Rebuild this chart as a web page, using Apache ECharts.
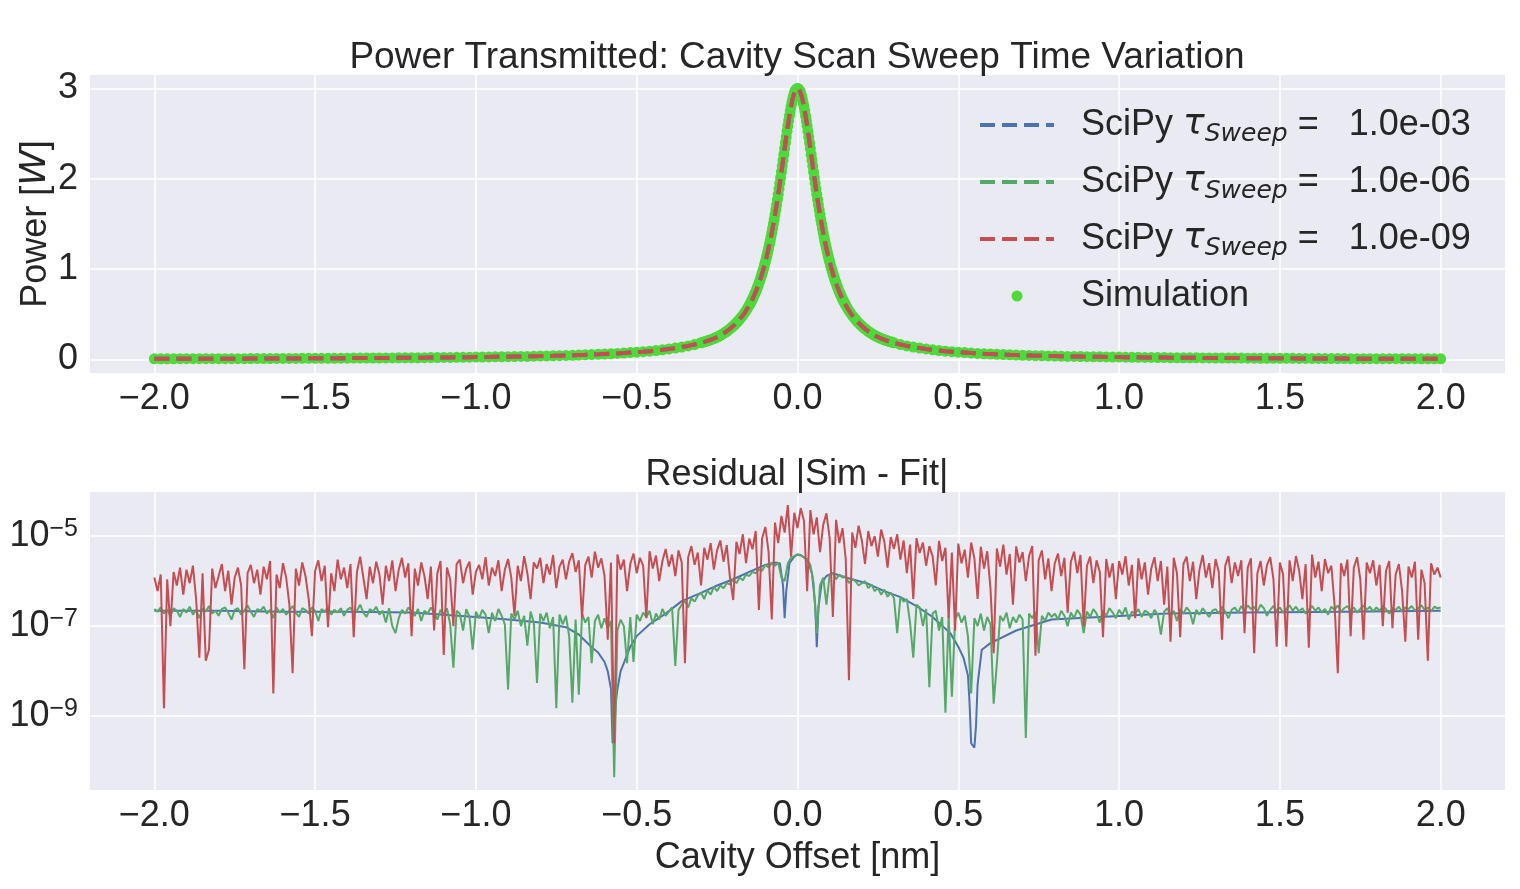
<!DOCTYPE html>
<html><head><meta charset="utf-8">
<script src="https://cdn.jsdelivr.net/npm/echarts@6/dist/echarts.min.js"></script>
<style>html,body{margin:0;padding:0;background:#fff}#c{width:1520px;height:889px}</style>
</head><body><div id="c"></div>
<script>
// ---------- top panel: transmitted power ----------
const simOffset = [
-2,-1.98,-1.96,-1.94,-1.92,-1.9,-1.88,-1.86,-1.84,-1.82,-1.8,-1.78,-1.76,-1.74,-1.72,-1.7,-1.68,-1.66,-1.64,-1.62,
-1.6,-1.58,-1.56,-1.54,-1.52,-1.5,-1.48,-1.46,-1.44,-1.42,-1.4,-1.38,-1.36,-1.34,-1.32,-1.3,-1.28,-1.26,-1.24,-1.22,
-1.2,-1.18,-1.16,-1.14,-1.12,-1.1,-1.08,-1.06,-1.04,-1.02,
-1,-0.98,-0.96,-0.94,-0.92,-0.9,-0.88,-0.86,-0.84,-0.82,-0.8,-0.78,-0.76,-0.74,-0.72,-0.7,-0.68,-0.66,-0.64,-0.62,
-0.6,-0.58,-0.56,-0.54,-0.52,-0.5,-0.48,-0.46,-0.44,-0.42,-0.4,-0.38,-0.36,-0.34,-0.32,
-0.3,-0.295,-0.29,-0.285,-0.28,-0.275,-0.27,-0.265,-0.26,-0.255,-0.25,-0.245,-0.24,-0.235,-0.23,-0.225,-0.22,-0.215,-0.21,-0.205,
-0.2,-0.195,-0.19,-0.185,-0.18,-0.175,-0.17,-0.165,-0.16,-0.155,
-0.15,-0.1475,-0.145,-0.1425,-0.14,-0.1375,-0.135,-0.1325,-0.13,-0.1275,-0.125,-0.1225,-0.12,-0.1175,-0.115,-0.1125,-0.11,-0.1075,-0.105,-0.1025,
-0.1,-0.0975,-0.095,-0.0925,-0.09,-0.0875,-0.085,-0.0825,-0.08,-0.0775,-0.075,-0.0725,-0.07,-0.0675,-0.065,-0.0625,-0.06,-0.0575,-0.055,-0.0525,
-0.05,-0.0475,-0.045,-0.0425,-0.04,-0.0375,-0.035,-0.0325,-0.03,-0.0275,-0.025,-0.0225,-0.02,-0.0175,-0.015,-0.0125,-0.01,-0.0075,-0.005,-0.0025,
0,
0.0025,0.005,0.0075,0.01,0.0125,0.015,0.0175,0.02,0.0225,0.025,0.0275,0.03,0.0325,0.035,0.0375,0.04,0.0425,0.045,0.0475,0.05,
0.0525,0.055,0.0575,0.06,0.0625,0.065,0.0675,0.07,0.0725,0.075,0.0775,0.08,0.0825,0.085,0.0875,0.09,0.0925,0.095,0.0975,0.1,
0.1025,0.105,0.1075,0.11,0.1125,0.115,0.1175,0.12,0.1225,0.125,0.1275,0.13,0.1325,0.135,0.1375,0.14,0.1425,0.145,0.1475,0.15,
0.155,0.16,0.165,0.17,0.175,0.18,0.185,0.19,0.195,0.2,
0.205,0.21,0.215,0.22,0.225,0.23,0.235,0.24,0.245,0.25,0.255,0.26,0.265,0.27,0.275,0.28,0.285,0.29,0.295,0.3,
0.32,0.34,0.36,0.38,0.4,0.42,0.44,0.46,0.48,0.5,0.52,0.54,0.56,0.58,0.6,0.62,0.64,0.66,0.68,0.7,
0.72,0.74,0.76,0.78,0.8,0.82,0.84,0.86,0.88,0.9,0.92,0.94,0.96,0.98,1,
1.02,1.04,1.06,1.08,1.1,1.12,1.14,1.16,1.18,1.2,1.22,1.24,1.26,1.28,1.3,1.32,1.34,1.36,1.38,1.4,
1.42,1.44,1.46,1.48,1.5,1.52,1.54,1.56,1.58,1.6,1.62,1.64,1.66,1.68,1.7,1.72,1.74,1.76,1.78,1.8,
1.82,1.84,1.86,1.88,1.9,1.92,1.94,1.96,1.98,2
];
const simPower = [
0.007,0.007,0.007,0.007,0.008,0.008,0.008,0.008,0.008,0.008,0.009,0.009,0.009,0.009,0.009,0.010,0.010,0.010,0.010,0.011,
0.011,0.011,0.011,0.012,0.012,0.012,0.013,0.013,0.013,0.014,0.014,0.015,0.015,0.015,0.016,0.016,0.017,0.017,0.018,0.018,
0.019,0.019,0.020,0.021,0.021,0.022,0.023,0.024,0.024,0.025,
0.026,0.027,0.028,0.029,0.030,0.031,0.032,0.033,0.034,0.036,0.037,0.039,0.040,0.042,0.044,0.046,0.049,0.051,0.054,0.057,
0.060,0.063,0.067,0.071,0.076,0.081,0.086,0.092,0.099,0.107,0.116,0.126,0.137,0.150,0.165,
0.185,0.190,0.195,0.200,0.206,0.212,0.218,0.225,0.232,0.240,0.248,0.257,0.267,0.277,0.288,0.300,0.312,0.325,0.339,0.354,
0.370,0.387,0.404,0.423,0.444,0.466,0.489,0.514,0.540,0.569,
0.600,0.616,0.633,0.651,0.669,0.688,0.708,0.728,0.749,0.771,0.794,0.818,0.843,0.868,0.895,0.923,0.952,0.982,1.014,1.046,
1.080,1.115,1.152,1.190,1.230,1.271,1.313,1.357,1.403,1.451,1.500,1.551,1.603,1.657,1.713,1.770,1.829,1.889,1.951,2.013,
2.077,2.141,2.206,2.271,2.336,2.400,2.464,2.526,2.586,2.644,2.700,2.752,2.801,2.845,2.885,2.919,2.948,2.970,2.987,2.997,
3.000,
2.997,2.987,2.970,2.948,2.919,2.885,2.845,2.801,2.752,2.700,2.644,2.586,2.526,2.464,2.400,2.336,2.271,2.206,2.141,2.077,
2.013,1.951,1.889,1.829,1.770,1.713,1.657,1.603,1.551,1.500,1.451,1.403,1.357,1.313,1.271,1.230,1.190,1.152,1.115,1.080,
1.046,1.014,0.982,0.952,0.923,0.895,0.868,0.843,0.818,0.794,0.771,0.749,0.728,0.708,0.688,0.669,0.651,0.633,0.616,0.600,
0.569,0.540,0.514,0.489,0.466,0.444,0.423,0.404,0.387,0.370,
0.354,0.339,0.325,0.312,0.300,0.288,0.277,0.267,0.257,0.248,0.240,0.232,0.225,0.218,0.212,0.206,0.200,0.195,0.190,0.185,
0.165,0.150,0.137,0.126,0.116,0.107,0.099,0.092,0.086,0.081,0.076,0.071,0.067,0.063,0.060,0.057,0.054,0.051,0.049,0.046,
0.044,0.042,0.040,0.039,0.037,0.036,0.034,0.033,0.032,0.031,0.030,0.029,0.028,0.027,0.026,
0.025,0.024,0.024,0.023,0.022,0.021,0.021,0.020,0.019,0.019,0.018,0.018,0.017,0.017,0.016,0.016,0.015,0.015,0.015,0.014,
0.014,0.013,0.013,0.013,0.012,0.012,0.012,0.011,0.011,0.011,0.011,0.010,0.010,0.010,0.010,0.009,0.009,0.009,0.009,0.009,
0.008,0.008,0.008,0.008,0.008,0.008,0.007,0.007,0.007,0.007
];
// the three SciPy fits coincide with the simulation at this scale
const fitPower = simPower;

// ---------- bottom panel: residuals ----------
const residOffset = [
-2,-1.99,-1.98,-1.97,-1.96,-1.95,-1.94,-1.93,-1.92,-1.91,
-1.9,-1.89,-1.88,-1.87,-1.86,-1.85,-1.84,-1.83,-1.82,-1.81,
-1.8,-1.79,-1.78,-1.77,-1.76,-1.75,-1.74,-1.73,-1.72,-1.71,
-1.7,-1.69,-1.68,-1.67,-1.66,-1.65,-1.64,-1.63,-1.62,-1.61,
-1.6,-1.59,-1.58,-1.57,-1.56,-1.55,-1.54,-1.53,-1.52,-1.51,
-1.5,-1.49,-1.48,-1.47,-1.46,-1.45,-1.44,-1.43,-1.42,-1.41,
-1.4,-1.39,-1.38,-1.37,-1.36,-1.35,-1.34,-1.33,-1.32,-1.31,
-1.3,-1.29,-1.28,-1.27,-1.26,-1.25,-1.24,-1.23,-1.22,-1.21,
-1.2,-1.19,-1.18,-1.17,-1.16,-1.15,-1.14,-1.13,-1.12,-1.11,
-1.1,-1.09,-1.08,-1.07,-1.06,-1.05,-1.04,-1.03,-1.02,-1.01,
-1,-0.99,-0.98,-0.97,-0.96,-0.95,-0.94,-0.93,-0.92,-0.91,
-0.9,-0.89,-0.88,-0.87,-0.86,-0.85,-0.84,-0.83,-0.82,-0.81,
-0.8,-0.79,-0.78,-0.77,-0.76,-0.75,-0.74,-0.73,-0.72,-0.71,
-0.7,-0.69,-0.68,-0.67,-0.66,-0.65,-0.64,-0.63,-0.62,-0.61,
-0.6,-0.59,-0.58,-0.57,-0.56,-0.55,-0.54,-0.53,-0.52,-0.51,
-0.5,-0.49,-0.48,-0.47,-0.46,-0.45,-0.44,-0.43,-0.42,-0.41,
-0.4,-0.39,-0.38,-0.37,-0.36,-0.35,-0.34,-0.33,-0.32,-0.31,
-0.3,-0.29,-0.28,-0.27,-0.26,-0.25,-0.24,-0.23,-0.22,-0.21,
-0.2,-0.19,-0.18,-0.17,-0.16,-0.15,-0.14,-0.13,-0.12,-0.11,
-0.1,-0.09,-0.08,-0.07,-0.06,-0.05,-0.04,-0.03,-0.02,-0.01,
0,0.01,0.02,0.03,0.04,0.05,0.06,0.07,0.08,0.09,
0.1,0.11,0.12,0.13,0.14,0.15,0.16,0.17,0.18,0.19,
0.2,0.21,0.22,0.23,0.24,0.25,0.26,0.27,0.28,0.29,
0.3,0.31,0.32,0.33,0.34,0.35,0.36,0.37,0.38,0.39,
0.4,0.41,0.42,0.43,0.44,0.45,0.46,0.47,0.48,0.49,
0.5,0.51,0.52,0.53,0.54,0.55,0.56,0.57,0.58,0.59,
0.6,0.61,0.62,0.63,0.64,0.65,0.66,0.67,0.68,0.69,
0.7,0.71,0.72,0.73,0.74,0.75,0.76,0.77,0.78,0.79,
0.8,0.81,0.82,0.83,0.84,0.85,0.86,0.87,0.88,0.89,
0.9,0.91,0.92,0.93,0.94,0.95,0.96,0.97,0.98,0.99,
1,1.01,1.02,1.03,1.04,1.05,1.06,1.07,1.08,1.09,
1.1,1.11,1.12,1.13,1.14,1.15,1.16,1.17,1.18,1.19,
1.2,1.21,1.22,1.23,1.24,1.25,1.26,1.27,1.28,1.29,
1.3,1.31,1.32,1.33,1.34,1.35,1.36,1.37,1.38,1.39,
1.4,1.41,1.42,1.43,1.44,1.45,1.46,1.47,1.48,1.49,
1.5,1.51,1.52,1.53,1.54,1.55,1.56,1.57,1.58,1.59,
1.6,1.61,1.62,1.63,1.64,1.65,1.66,1.67,1.68,1.69,
1.7,1.71,1.72,1.73,1.74,1.75,1.76,1.77,1.78,1.79,
1.8,1.81,1.82,1.83,1.84,1.85,1.86,1.87,1.88,1.89,
1.9,1.91,1.92,1.93,1.94,1.95,1.96,1.97,1.98,1.99,
2
];
const residRed = [
1.2e-6,6e-7,1.4e-6,1.5e-9,1.1e-6,1e-7,1.6e-6,8e-7,2e-6,5e-7,
1.8e-6,9e-7,2.2e-6,4e-7,2e-8,1.5e-6,1.7e-8,3e-8,1.9e-6,7e-7,
1.3e-6,2.4e-6,6e-7,1.7e-6,3e-7,1.2e-6,2e-6,8e-7,1.1e-8,1.5e-6,
2.3e-6,9e-7,1.8e-6,5e-7,2.1e-6,1.1e-6,2.8e-6,3.2e-9,1.4e-6,7e-7,
2.5e-6,1.2e-6,3e-7,9e-9,1.9e-6,8e-7,2.6e-6,1.3e-6,4e-7,6e-8,
1.7e-6,2.9e-6,1e-6,2.2e-6,9.5e-8,1.5e-6,6e-7,3e-6,1.1e-6,2e-6,
7e-7,2.4e-6,5.7e-8,1.6e-6,3.5e-6,1.2e-6,4e-7,2.1e-6,9e-7,2.7e-6,
1.4e-6,3e-7,2.2e-6,1e-6,2.9e-6,6e-7,1.8e-6,3.3e-6,1.2e-6,2.5e-6,
6e-8,1.9e-6,8e-7,2.6e-6,1.3e-6,4e-7,2.1e-6,8e-8,1.5e-6,2.8e-6,
2.3e-8,2e-6,1.1e-6,1e-7,2.4e-6,3e-6,9e-7,1.9e-6,2.7e-6,5e-7,
1.6e-6,2.3e-6,1.1e-6,3.4e-6,8e-7,2e-6,1.3e-6,2.9e-6,6e-7,1.8e-6,
3.1e-6,1.2e-6,1.7e-7,2.2e-6,1e-6,3.6e-6,1.5e-6,4e-7,2.6e-6,1.9e-6,
3.3e-6,9e-7,2.4e-6,1.4e-6,3.8e-6,7e-7,2.1e-6,3e-6,1.1e-6,2.7e-6,
4.2e-6,1.6e-6,2.9e-6,1.5e-7,2.3e-6,3.5e-6,1.2e-6,4.5e-6,2e-6,3.2e-6,
1.3e-6,5e-8,2.6e-6,2.5e-10,3.9e-6,1.8e-6,3e-6,6e-7,2.4e-6,4.1e-6,
1.5e-6,3.3e-6,2.2e-6,1.5e-7,4.6e-6,1.9e-6,3.7e-6,1e-6,2.8e-6,5.2e-6,
2.1e-6,3.9e-6,1.3e-6,4.8e-6,2.6e-6,1.5e-8,3.4e-6,6e-6,2.3e-6,4.3e-6,
8e-7,5.5e-6,3e-6,7e-6,1.8e-6,4.9e-6,8e-6,2.7e-6,6.3e-6,1.2e-6,
3.8e-7,7.5e-6,4e-6,1.1e-5,2.5e-6,8.8e-6,5.1e-6,1.3e-5,2.3e-7,9e-6,
1.6e-5,4.5e-6,1.4e-7,2e-5,7e-6,2.8e-5,1.2e-5,4.9e-5,3.5e-6,3.3e-5,
1.5e-5,4.2e-5,2.2e-5,6e-7,3.8e-5,1.1e-5,2.6e-5,4.4e-6,1.8e-5,3.2e-5,
9e-6,1.6e-7,2.3e-5,7e-6,1.5e-5,3.1e-6,6.3e-9,1.2e-5,5.5e-6,1.7e-5,
8e-6,2.4e-6,1.3e-5,6e-6,1e-5,3.5e-6,1.4e-5,7.5e-6,2e-6,9.5e-6,
5.2e-6,1.1e-5,3e-6,8e-6,1.5e-6,6.5e-6,4e-7,9e-6,4.2e-6,7.2e-6,
2.2e-6,6e-6,3.6e-6,8e-7,7.8e-6,2.8e-6,5.5e-6,1.5e-7,4.3e-6,8e-8,
6.8e-6,2.5e-6,5e-6,1.2e-6,7.2e-6,3.2e-6,4e-7,5.8e-6,1.9e-6,4.6e-6,
7e-7,2.5e-8,5.3e-6,2.1e-6,6.5e-6,1.4e-6,4e-6,3e-7,5.9e-6,2.6e-6,
4.4e-6,1e-6,3.6e-6,6e-6,2.2e-8,2.9e-6,4.8e-6,1.1e-6,3.2e-6,6e-7,
2.5e-6,4.1e-6,1.3e-6,3.3e-6,2e-7,2.7e-6,4.5e-6,1.5e-6,3.8e-6,1e-7,
2.2e-6,3.5e-6,9e-7,2.9e-6,1.6e-6,5.7e-8,3.1e-6,1.2e-6,2.5e-6,4e-7,
2.8e-6,1.4e-6,3.6e-6,8e-7,2.3e-6,1.5e-7,3.2e-6,1.1e-6,2.6e-6,5e-7,
1.9e-6,3.4e-6,1e-6,2.8e-6,3e-7,2.1e-6,4.5e-8,3.3e-6,1.5e-6,5.7e-8,
2.4e-6,3.5e-6,1e-6,2.7e-6,4e-7,1.8e-6,3.8e-6,1.2e-6,2.5e-6,7e-7,
3.1e-6,1.6e-6,5e-8,2.2e-6,3.6e-6,9e-7,2.6e-6,1.3e-6,2.9e-6,7e-8,
2e-6,3.2e-6,2.5e-8,1.5e-6,2.8e-6,8e-7,2.3e-6,3.4e-6,1.1e-6,3.5e-8,
2.6e-6,1.4e-6,3.5e-8,2.9e-6,1e-6,3.6e-6,1.7e-6,4e-7,2.4e-6,3.3e-8,
3.9e-6,1.2e-6,2.7e-6,6e-7,3.1e-6,1.5e-6,2.2e-6,3e-7,9e-9,2.5e-6,
1.3e-6,3e-6,6e-8,2e-6,3.4e-6,1.1e-6,5e-8,2.6e-6,1.5e-6,2.9e-6,
8e-7,2.3e-6,1e-7,1.7e-6,2.8e-6,9e-8,1.4e-6,2.4e-6,6e-7,4.5e-8,
2.1e-6,1.2e-6,2.7e-6,5e-8,1.8e-6,9e-7,1.7e-8,2.5e-6,1.4e-6,2e-6,
1.2e-6
];
const residGreen = [
2.4e-7,2.1e-7,2.6e-7,1.9e-7,2.3e-7,1.7e-7,2.5e-7,2.2e-7,1.6e-7,2.4e-7,
2e-7,2.7e-7,1.8e-7,2.3e-7,1.5e-7,2.5e-7,2.1e-7,2.8e-7,1.9e-7,2.2e-7,
1.7e-7,2.4e-7,2.6e-7,2e-7,1.4e-7,2.3e-7,2.5e-7,1.8e-7,2.2e-7,2.9e-7,
2.1e-7,1.6e-7,2.4e-7,2.2e-7,2.7e-7,1.9e-7,2.3e-7,1.5e-7,2.6e-7,2e-7,
2.4e-7,1.8e-7,2.2e-7,2.8e-7,2e-7,1.6e-7,2.5e-7,2.3e-7,1.9e-7,2.6e-7,
2.2e-7,1.3e-7,2.4e-7,2.1e-7,2.7e-7,1.8e-7,2.3e-7,2e-7,2.5e-7,1.7e-7,
2.3e-7,2.6e-7,1.9e-7,2.2e-7,3e-7,2e-7,1.6e-7,2.4e-7,2.1e-7,2.7e-7,
1.8e-7,2.2e-7,1.2e-7,2.5e-7,1e-7,7e-8,1.5e-7,2.3e-7,1.9e-7,2.6e-7,
2.1e-7,1.7e-7,2.4e-7,1.3e-7,2.2e-7,1.9e-7,2.6e-7,2e-7,1.4e-7,2.3e-7,
1.8e-7,2.5e-7,1.1e-7,1.2e-8,2.2e-7,1.9e-7,8e-8,2.4e-7,1.6e-7,3e-8,
2.1e-7,1.5e-7,2.3e-7,1.8e-7,7e-8,2e-7,1.3e-7,2.4e-7,1.7e-7,1.1e-7,
3.9e-9,1.9e-7,1.4e-7,2.2e-7,1e-7,1.7e-7,3.7e-8,2.1e-7,1.2e-7,5.5e-9,
1.9e-7,1.3e-7,2e-7,9e-8,1.6e-7,1.5e-9,1.8e-7,1.1e-7,1.7e-7,6e-8,
2e-9,1.4e-7,3e-9,1.9e-7,1.2e-7,1.6e-7,1.5e-8,1.3e-7,1.8e-7,9e-8,
1.5e-7,9e-8,1.3e-7,4.4e-11,8e-8,1.4e-7,1e-7,1.5e-8,1.6e-7,1.6e-8,
1.8e-7,1.3e-7,2e-7,1.6e-7,2.2e-7,1.1e-7,1.9e-7,1.4e-7,2.4e-7,1.7e-7,
2.1e-7,2.6e-7,1.3e-8,2.3e-7,3e-7,3.6e-7,2.6e-7,4.2e-7,3.5e-7,4.8e-7,
5.5e-7,4e-7,6.2e-7,5e-7,7.5e-7,6e-7,8e-7,7e-7,9e-7,8.5e-7,
1.1e-6,9e-7,1.2e-6,1.05e-6,1.4e-6,1.3e-6,1.6e-6,1.5e-6,1.8e-6,1.7e-6,
2.3e-6,2e-6,2.5e-6,2.2e-6,2.6e-6,1.2e-6,1e-6,2.5e-6,3.3e-6,3.6e-6,
3.9e-6,3.7e-6,3.4e-6,3e-6,2.3e-6,9e-7,7e-8,8e-7,1.2e-6,3e-7,
1.4e-6,1.5e-6,1.1e-6,1.4e-6,1.2e-6,1.3e-6,9e-7,1.1e-6,1e-6,8e-7,
9e-7,1e-6,7e-7,8.5e-7,6e-7,7e-7,5e-7,6.5e-7,4.5e-7,5.5e-7,
4.2e-7,7e-8,4.5e-7,3.5e-7,4e-7,1.2e-7,2e-8,3e-7,2.6e-7,1e-7,
2.4e-7,4.4e-9,1.9e-7,2.2e-7,8e-8,1.6e-7,1.2e-9,1.8e-7,2.7e-9,1.4e-7,
2e-7,1.2e-7,1.7e-7,6e-8,3.2e-9,1.5e-7,1e-7,1.9e-7,8e-8,1.6e-7,
1.1e-7,1.9e-9,1.5e-8,1.7e-7,1.3e-7,2e-7,9e-8,1.6e-7,1.2e-7,1.8e-7,
1.4e-7,3.3e-10,1.9e-7,1.5e-7,2.1e-7,2.5e-8,1.7e-7,1.3e-7,2e-7,1.6e-7,
1.9e-7,1.4e-7,2.2e-7,1.7e-7,1e-7,2e-7,1.5e-7,2.3e-7,1.8e-7,7e-8,
2.1e-7,1.6e-7,2.4e-7,1.9e-7,1.2e-7,2.2e-7,1.7e-7,2.5e-7,2e-7,1.5e-7,
2.3e-7,1.8e-7,2.6e-7,1.4e-7,2.1e-7,1.9e-7,2.4e-7,1.6e-7,2.2e-7,2e-7,
1.5e-7,2.3e-7,1.8e-7,6.5e-8,2.1e-7,2.5e-7,1.7e-7,2.2e-7,1.3e-7,2.4e-7,
1.9e-7,2.6e-7,2.1e-7,1.1e-7,2.3e-7,1.8e-7,2.5e-7,2e-7,1.6e-7,2.2e-7,
2.4e-7,1.9e-7,2.7e-7,2.1e-7,1.5e-7,2.3e-7,2.6e-7,2e-7,2.8e-7,2.2e-7,
2.9e-7,2.4e-7,2.7e-7,2.1e-7,3e-7,2.5e-7,1.7e-7,2.3e-7,2.8e-7,2.2e-7,
2.6e-7,2e-7,2.4e-7,2.9e-7,2.2e-7,2.7e-7,2.1e-7,2.5e-7,1.9e-7,2.3e-7,
2.8e-7,2.2e-7,2.6e-7,2e-7,2.4e-7,1.8e-7,2.7e-7,2.3e-7,2.9e-7,2.1e-7,
2.5e-7,2.8e-7,2.2e-7,2.6e-7,2e-7,2.4e-7,2.9e-7,2.3e-7,2.7e-7,2.1e-7,
2.6e-7,2.2e-7,2.8e-7,2.4e-7,1.9e-7,2.5e-7,2.3e-7,2.7e-7,2.1e-7,2.6e-7,
2.4e-7,2.8e-7,2.2e-7,2.5e-7,2.9e-7,2.3e-7,2.6e-7,2.1e-7,2.7e-7,2.5e-7,
2.6e-7
];
const blueOffset = [-2,-1.8,-1.6,-1.4,-1.2,-1.1,-1,-0.9,-0.8,-0.72,-0.68,-0.64,-0.62,-0.6,-0.59,-0.58,-0.575,-0.57,-0.565,-0.56,
-0.55,-0.54,-0.52,-0.5,-0.46,-0.41,-0.36,-0.3,-0.25,-0.2,-0.15,-0.1,-0.07,-0.055,-0.045,-0.04,-0.035,-0.025,-0.01,0,
0.01,0.03,0.045,0.055,0.06,0.065,0.075,0.09,0.11,0.15,0.215,0.27,0.32,0.37,0.42,0.475,0.5,0.516,0.53,0.535,
0.54,0.55,0.555,0.56,0.573,0.6,0.68,0.79,0.94,1.15,1.4,1.7,2];
const residBlue = [2.2e-7,2.2e-7,2.1e-7,2.1e-7,2e-7,1.8e-7,1.6e-7,1.4e-7,1.2e-7,9.5e-8,6.5e-8,3.4e-8,2.6e-8,1.6e-8,1e-8,4e-9,2.5e-10,4e-10,2e-9,4e-9,
1e-8,1.5e-8,3.5e-8,6e-8,1.1e-7,1.9e-7,3.6e-7,5.5e-7,8e-7,1.1e-6,1.6e-6,2.3e-6,2.6e-6,2.5e-6,8e-7,1.5e-7,6e-7,2.5e-6,3.5e-6,3.9e-6,
3.8e-6,3e-6,1.5e-6,3e-7,3.4e-8,2.5e-7,9e-7,1.3e-6,1.5e-6,1.2e-6,9e-7,6e-7,4.4e-7,2.8e-7,1.6e-7,7e-8,3.5e-8,2e-8,8e-9,2e-9,
2.5e-10,2e-10,6e-10,5e-9,3e-8,4.2e-8,8e-8,1.4e-7,1.6e-7,1.9e-7,2e-7,2.1e-7,2.2e-7];

// ---------- ticks ----------
const offsetTicks = [-2,-1.5,-1,-0.5,0,0.5,1,1.5,2];
const powerTicks = [0,1,2,3];
const residTickExp = [-9,-7,-5];

// ---------- styling ----------
const FONT = 'Liberation Sans';
const TXT = '#262626';
const BLUE = '#4C72B0', GREEN = '#55A868', RED = '#C44E52', SIM = '#4fd93a';
const pairs = (xs, ys) => xs.map((x, i) => [x, ys[i]]);
const logPairs = (xs, ys) => xs.map((x, i) => [x, Math.log10(ys[i])]);
const fmtX = v => (v < 0 ? '\u2212' : '') + Math.abs(v).toFixed(1);
const labelStyle = {fontSize: 36, fontFamily: FONT, color: TXT};

function xAxisCfg(gridIndex, name) {
  return {
    type: 'value', gridIndex, min: -2.2, max: 2.2,
    axisLine: {show: false},
    axisTick: {show: false, customValues: offsetTicks},
    axisLabel: Object.assign({customValues: offsetTicks, formatter: fmtX, margin: 8}, labelStyle),
    splitLine: {show: true, lineStyle: {color: '#ffffff', width: 1.5}},
    name: name || '', nameLocation: 'middle', nameGap: 50,
    nameTextStyle: labelStyle
  };
}

const legendNames = {
  fit3: '{sp| }{a|SciPy }{t|\u03c4}{sub|Sweep}{a| =   1.0e-03}',
  fit6: '{sp| }{a|SciPy }{t|\u03c4}{sub|Sweep}{a| =   1.0e-06}',
  fit9: '{sp| }{a|SciPy }{t|\u03c4}{sub|Sweep}{a| =   1.0e-09}',
  sim: '{sp| }{a|Simulation}'
};

const chart = echarts.init(document.getElementById('c'), null, {renderer: 'canvas'});
chart.setOption({
  animation: false,
  backgroundColor: '#ffffff',
  title: [
    {text: 'Power Transmitted: Cavity Scan Sweep Time Variation', left: 797, top: 39, textAlign: 'center', padding: 0,
     textStyle: {fontSize: 37, fontWeight: 'normal', fontFamily: FONT, color: TXT}},
    {text: 'Residual |Sim - Fit|', left: 797, top: 457, textAlign: 'center', padding: 0,
     textStyle: {fontSize: 36, fontWeight: 'normal', fontFamily: FONT, color: TXT}}
  ],
  grid: [
    {left: 90, right: 15, top: 75, height: 298, show: true, backgroundColor: '#EAEAF2', borderWidth: 0, containLabel: false, outerBoundsMode: 'none'},
    {left: 90, right: 15, top: 492, height: 298, show: true, backgroundColor: '#EAEAF2', borderWidth: 0, containLabel: false, outerBoundsMode: 'none'}
  ],
  xAxis: [xAxisCfg(0), xAxisCfg(1, 'Cavity Offset [nm]')],
  yAxis: [
    {type: 'value', gridIndex: 0, min: -0.15, max: 3.15,
     axisLine: {show: false},
     axisTick: {show: false, customValues: powerTicks},
     axisLabel: Object.assign({customValues: powerTicks, margin: 12}, labelStyle),
     splitLine: {show: true, lineStyle: {color: '#ffffff', width: 1.5}},
     name: '{a|Power [}{i|W}{a|]}', nameLocation: 'middle', nameGap: 36, nameRotate: 90, nameMoveOverlap: false,
     nameTextStyle: {rich: {a: labelStyle, i: {fontSize: 36, fontFamily: 'DejaVu Sans', fontStyle: 'italic', color: TXT}}}},
    {type: 'value', gridIndex: 1, min: -10.64, max: -4.02,
     axisLine: {show: false},
     axisTick: {show: false, customValues: residTickExp},
     axisLabel: {customValues: residTickExp, margin: 12,
       formatter: v => '{b|10}{s|\u2212' + Math.round(Math.abs(v)) + '}',
       rich: {b: {fontSize: 36, fontFamily: FONT, color: TXT, lineHeight: 40},
              s: {fontSize: 25, fontFamily: FONT, color: TXT, verticalAlign: 'top', lineHeight: 25}}},
     splitLine: {show: true, lineStyle: {color: '#ffffff', width: 1.5}}}
  ],
  legend: {
    orient: 'vertical', left: 978, top: 107, padding: 0,
    itemWidth: 74, itemHeight: 11, itemGap: 17,
    data: [
      {name: 'fit3', itemStyle: {opacity: 0}},
      {name: 'fit6', itemStyle: {opacity: 0}},
      {name: 'fit9', itemStyle: {opacity: 0}},
      {name: 'sim'}
    ],
    formatter: n => legendNames[n],
    lineStyle: {width: 'inherit'},
    textStyle: {color: TXT, fontSize: 36, fontFamily: FONT,
      rich: {
        sp: {width: 22, fontSize: 36, lineHeight: 44},
        a: {fontSize: 36, fontFamily: FONT, color: TXT, lineHeight: 44},
        t: {fontSize: 36, fontFamily: 'DejaVu Sans', fontStyle: 'italic', color: TXT, lineHeight: 44},
        sub: {fontSize: 25, fontFamily: 'DejaVu Sans', fontStyle: 'italic', color: TXT, lineHeight: 27, verticalAlign: 'bottom'}
      }}
  },
  series: [
    {type: 'scatter', name: 'sim', xAxisIndex: 0, yAxisIndex: 0, data: pairs(simOffset, simPower),
     symbolSize: 11, itemStyle: {color: SIM, opacity: 1}},
    {type: 'line', name: 'fit3', xAxisIndex: 0, yAxisIndex: 0, data: pairs(simOffset, fitPower), symbol: 'none',
     itemStyle: {color: BLUE}, lineStyle: {color: BLUE, width: 4, type: [15, 7]}},
    {type: 'line', name: 'fit6', xAxisIndex: 0, yAxisIndex: 0, data: pairs(simOffset, fitPower), symbol: 'none',
     itemStyle: {color: GREEN}, lineStyle: {color: GREEN, width: 4, type: [15, 7]}},
    {type: 'line', name: 'fit9', xAxisIndex: 0, yAxisIndex: 0, data: pairs(simOffset, fitPower), symbol: 'none',
     itemStyle: {color: RED}, lineStyle: {color: RED, width: 4, type: [15, 7]}},
    {type: 'line', name: 'residBlue', xAxisIndex: 1, yAxisIndex: 1, data: logPairs(blueOffset, residBlue), symbol: 'none',
     lineStyle: {color: BLUE, width: 2}, itemStyle: {color: BLUE}},
    {type: 'line', name: 'residGreen', xAxisIndex: 1, yAxisIndex: 1, data: logPairs(residOffset, residGreen), symbol: 'none',
     lineStyle: {color: GREEN, width: 2}, itemStyle: {color: GREEN}},
    {type: 'line', name: 'residRed', xAxisIndex: 1, yAxisIndex: 1, data: logPairs(residOffset, residRed), symbol: 'none',
     lineStyle: {color: RED, width: 2}, itemStyle: {color: RED}}
  ]
});
</script>
</body></html>
